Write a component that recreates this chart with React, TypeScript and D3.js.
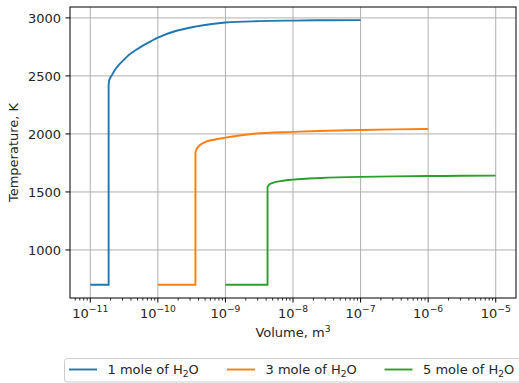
import * as d3 from 'd3';
import React, { useEffect, useRef } from 'react';

// values (volume in m^3, temperature in K)
const moles = [1, 3, 5];
const seriesColors = ['#1f77b4', '#ff7f0e', '#2ca02c'];

const volume1 = [1e-11, 1.87e-11, 1.87e-11, 1.905e-11, 2.09e-11, 2.34e-11, 2.63e-11, 3.16e-11, 3.72e-11, 4.79e-11, 6.17e-11, 7.94e-11, 1e-10, 1.78e-10, 3.55e-10, 6.31e-10, 1e-9, 3.16e-9, 1e-8, 3.16e-8, 1e-7];
const temp1 = [700, 700, 2420, 2462, 2507, 2555, 2593, 2640, 2680, 2725, 2766, 2800, 2830, 2885, 2925, 2948, 2960, 2972, 2977, 2980, 2981];

const volume3 = [1e-10, 3.6e-10, 3.6e-10, 3.72e-10, 3.98e-10, 4.9e-10, 7.08e-10, 1e-9, 2.45e-9, 1e-8, 3.16e-8, 1e-7, 3.16e-7, 1e-6];
const temp3 = [700, 700, 1840, 1866, 1890, 1928, 1952, 1968, 2000, 2018, 2027, 2034, 2039, 2043];

const volume5 = [1e-9, 4.2e-9, 4.2e-9, 4.47e-9, 5.0e-9, 7.08e-9, 1e-8, 2.57e-8, 1e-7, 3.16e-7, 1e-6, 3.16e-6, 1e-5];
const temp5 = [700, 700, 1543, 1564, 1578, 1596, 1606, 1620, 1630, 1634, 1637, 1639, 1641];

const yTicks = [1000, 1500, 2000, 2500, 3000];

export default function App() {
    const svgRef = useRef(null);

    useEffect(() => {
        const svg = d3.select(svgRef.current);
        svg.selectAll('*').remove();
        const font = 'DejaVu Sans';
        const left = 70, right = 516, top = 7, bottom = 298;

        const series = [
            { vol: volume1, temp: temp1 },
            { vol: volume3, temp: temp3 },
            { vol: volume5, temp: temp5 },
        ];

        const x = d3.scaleLog().domain([Math.pow(10, -11.3), Math.pow(10, -4.7)]).range([left, right]);
        const y = d3.scaleLinear().domain([586, 3094]).range([bottom, top]);

        const allTicks = x.ticks();
        const isMajor = (v) => Math.abs(Math.log10(v) - Math.round(Math.log10(v))) < 1e-6;
        const majors = allTicks.filter(isMajor);
        const minors = allTicks.filter((v) => !isMajor(v));

        // grid
        const grid = svg.append('g').attr('stroke', '#b0b0b0').attr('stroke-width', 1);
        grid.selectAll('.gx').data(majors).join('line')
            .attr('x1', (d) => x(d)).attr('x2', (d) => x(d))
            .attr('y1', top).attr('y2', bottom);
        grid.selectAll('.gy').data(yTicks).join('line')
            .attr('x1', left).attr('x2', right)
            .attr('y1', (d) => y(d)).attr('y2', (d) => y(d));

        // lines: straight step part, then a smooth curve after the jump
        const stepLine = d3.line().x((d) => x(d[0])).y((d) => y(d[1]));
        const smoothLine = d3.line().x((d) => x(d[0])).y((d) => y(d[1])).curve(d3.curveMonotoneX);
        series.forEach((s, i) => {
            const pts = s.vol.map((v, j) => [v, s.temp[j]]);
            const d = stepLine(pts.slice(0, 3)) + smoothLine(pts.slice(2)).replace(/^M/, 'L');
            svg.append('path')
                .attr('d', d)
                .attr('fill', 'none')
                .attr('stroke', seriesColors[i])
                .attr('stroke-width', 1.9);
        });

        // spines
        svg.append('rect')
            .attr('x', left).attr('y', top)
            .attr('width', right - left).attr('height', bottom - top)
            .attr('fill', 'none').attr('stroke', '#000').attr('stroke-width', 1);

        // x ticks
        svg.append('g').selectAll('line').data(majors).join('line')
            .attr('x1', (d) => x(d)).attr('x2', (d) => x(d))
            .attr('y1', bottom).attr('y2', bottom + 4.5)
            .attr('stroke', '#000').attr('stroke-width', 1);
        svg.append('g').selectAll('line').data(minors).join('line')
            .attr('x1', (d) => x(d)).attr('x2', (d) => x(d))
            .attr('y1', bottom).attr('y2', bottom + 2.6)
            .attr('stroke', '#000').attr('stroke-width', 0.8);

        const xLabels = svg.append('g').selectAll('text').data(majors).join('text')
            .attr('x', (d) => x(d))
            .attr('y', 317.7)
            .attr('text-anchor', 'middle')
            .attr('font-family', font)
            .attr('font-size', 13)
            .attr('fill', '#262626');
        xLabels.append('tspan').text('10');
        xLabels.append('tspan')
            .attr('font-size', 9.2)
            .attr('dy', -5.5)
            .text((d) => '\u2212' + Math.abs(Math.round(Math.log10(d))));

        // y ticks
        svg.append('g').selectAll('line').data(yTicks).join('line')
            .attr('x1', left - 4.5).attr('x2', left)
            .attr('y1', (d) => y(d)).attr('y2', (d) => y(d))
            .attr('stroke', '#000').attr('stroke-width', 1);
        svg.append('g').selectAll('text').data(yTicks).join('text')
            .attr('x', 61)
            .attr('y', (d) => y(d))
            .attr('dy', '0.36em')
            .attr('text-anchor', 'end')
            .attr('font-family', font)
            .attr('font-size', 13)
            .attr('fill', '#262626')
            .text((d) => d);

        // axis titles
        const xt = svg.append('text')
            .attr('x', (left + right) / 2).attr('y', 337)
            .attr('text-anchor', 'middle')
            .attr('font-family', font).attr('font-size', 13).attr('fill', '#262626');
        xt.append('tspan').text('Volume, m');
        xt.append('tspan').attr('font-size', 9.2).attr('dy', -5.5).text('3');

        svg.append('text')
            .attr('transform', `translate(17.5, ${(top + bottom) / 2}) rotate(-90)`)
            .attr('text-anchor', 'middle')
            .attr('font-family', font).attr('font-size', 13).attr('fill', '#262626')
            .text('Temperature, K');

        // legend
        const legend = svg.append('g');
        legend.append('rect')
            .attr('x', 64.5).attr('y', 358.5)
            .attr('width', 462).attr('height', 23.5)
            .attr('rx', 3)
            .attr('fill', '#fff').attr('fill-opacity', 0.8)
            .attr('stroke', '#cccccc').attr('stroke-width', 1);
        const itemX = [69, 227, 384.5];
        const items = legend.selectAll('g.item').data(moles).join('g')
            .attr('transform', (_, i) => `translate(${itemX[i]}, 369.5)`);
        items.append('line')
            .attr('x1', 0).attr('x2', 28)
            .attr('stroke', (_, i) => seriesColors[i])
            .attr('stroke-width', 1.9);
        const lt = items.append('text')
            .attr('x', 38.5).attr('y', 4.8)
            .attr('font-family', font).attr('font-size', 13).attr('fill', '#262626');
        lt.append('tspan').text((d) => `${d} mole of H`);
        lt.append('tspan').attr('font-size', 9.2).attr('dy', 2.6).text('2');
        lt.append('tspan').attr('dy', -2.6).text('O');
    }, []);

    return (
        <svg ref={svgRef} width={519} height={383}
            style={{ position: 'absolute', left: 0, top: 0, background: '#fff' }} />
    );
}
